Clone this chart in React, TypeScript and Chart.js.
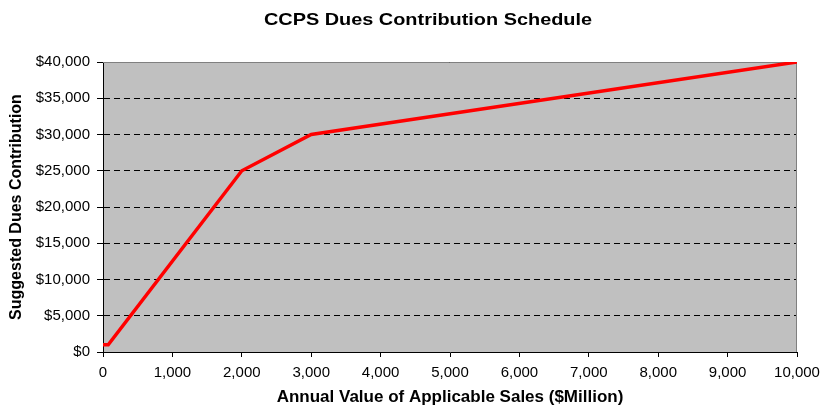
import React, { useEffect, useRef } from "react";
import { Chart, registerables } from "chart.js";

Chart.register(...registerables);

const salesMillions = [0, 75, 2000, 3000, 10000];
const duesContribution = [1000, 1000, 25000, 30000, 40000];
const chartTitle = "CCPS Dues Contribution Schedule";
const xAxisTitle = "Annual Value of Applicable Sales ($Million)";
const yAxisTitle = "Suggested Dues Contribution";

const FONT = "'Liberation Sans', Arial, sans-serif";

export default function App() {
  const ref = useRef<HTMLCanvasElement>(null);
  useEffect(() => {
    document.body.style.margin = "0";
    const ctx = ref.current!;
    const bgPlugin = {
      id: "bg",
      beforeDraw(chart: any) {
        const { ctx, chartArea } = chart;
        ctx.save();
        ctx.fillStyle = "#ffffff";
        ctx.fillRect(0, 0, chart.width, chart.height);
        ctx.fillStyle = "#C0C0C0";
        ctx.fillRect(chartArea.left, chartArea.top, chartArea.right - chartArea.left, chartArea.bottom - chartArea.top);
        ctx.restore();
      },
      afterDraw(chart: any) {
        const { ctx, chartArea } = chart;
        ctx.save();
        ctx.fillStyle = "#000";
        ctx.font = `bold 17px ${FONT}`;
        ctx.textAlign = "center";
        ctx.textBaseline = "middle";
        const cx = (chartArea.left + chartArea.right) / 2 - 22;
        ctx.translate(cx, 20);
        ctx.scale(1.17, 1);
        ctx.fillText(chartTitle, 0, 0);
        ctx.restore();
      },
      beforeDatasetsDraw(chart: any) {
        const { ctx, chartArea } = chart;
        ctx.save();
        ctx.strokeStyle = "#808080";
        ctx.lineWidth = 1;
        ctx.beginPath();
        ctx.moveTo(chartArea.left, chartArea.top + 0.5);
        ctx.lineTo(chartArea.right - 0.5, chartArea.top + 0.5);
        ctx.lineTo(chartArea.right - 0.5, chartArea.bottom);
        ctx.stroke();
        ctx.restore();
      },
    };
    const chart = new Chart(ctx, {
      type: "scatter",
      data: {
        datasets: [
          {
            data: salesMillions.map((x, i) => ({ x, y: duesContribution[i] })),
            showLine: true,
            borderColor: "#FF0000",
            backgroundColor: "#FF0000",
            borderWidth: 3.5,
            pointRadius: 0,
            tension: 0,
          },
        ],
      },
      options: {
        animation: false,
        responsive: false,
        maintainAspectRatio: false,
        layout: { padding: { top: 62, right: 25, left: 0, bottom: 0 } },
        plugins: { legend: { display: false }, tooltip: { enabled: false }, title: { display: false } },
        scales: {
          x: {
            type: "linear",
            min: 0,
            max: 10000,
            afterFit(scale: any) {
              scale.height = 54;
              scale.paddingLeft = 0;
              scale.paddingRight = 0;
            },
            ticks: {
              stepSize: 1000,
              color: "#000",
              font: { family: FONT, size: 15 },
              padding: 7,
              maxRotation: 0,
              autoSkip: false,
              callback: (v: any) => Number(v).toLocaleString("en-US"),
            },
            grid: { drawOnChartArea: false, drawTicks: true, tickLength: 5, tickColor: "#000" },
            border: { color: "#000", width: 1 },
            title: { display: true, text: xAxisTitle, color: "#000", font: { family: FONT, size: 17, weight: "bold", lineHeight: 1 }, padding: { top: 0, bottom: 0 } },
          },
          y: {
            type: "linear",
            min: 0,
            max: 40000,
            afterFit(scale: any) {
              scale.width = 103;
              scale.paddingTop = 0;
              scale.paddingBottom = 0;
            },
            ticks: {
              stepSize: 5000,
              color: "#000",
              font: { family: FONT, size: 15 },
              padding: 7,
              callback: (v: any) => "$" + Number(v).toLocaleString("en-US"),
            },
            grid: { color: "#000", lineWidth: 1, drawTicks: true, tickLength: 6, tickColor: "#000", tickBorderDash: [] },
            border: { color: "#000", width: 1, dash: [6, 4] },
            title: { display: true, text: yAxisTitle, color: "#000", font: { family: FONT, size: 16, weight: "bold", lineHeight: 1 }, padding: { top: 9, bottom: 0 } },
          },
        },
      } as any,
      plugins: [bgPlugin],
    });
    return () => chart.destroy();
  }, []);
  return (
    <div style={{ width: 822, height: 406 }}>
      <canvas ref={ref} width={822} height={406} style={{ display: "block" }} />
    </div>
  );
}
